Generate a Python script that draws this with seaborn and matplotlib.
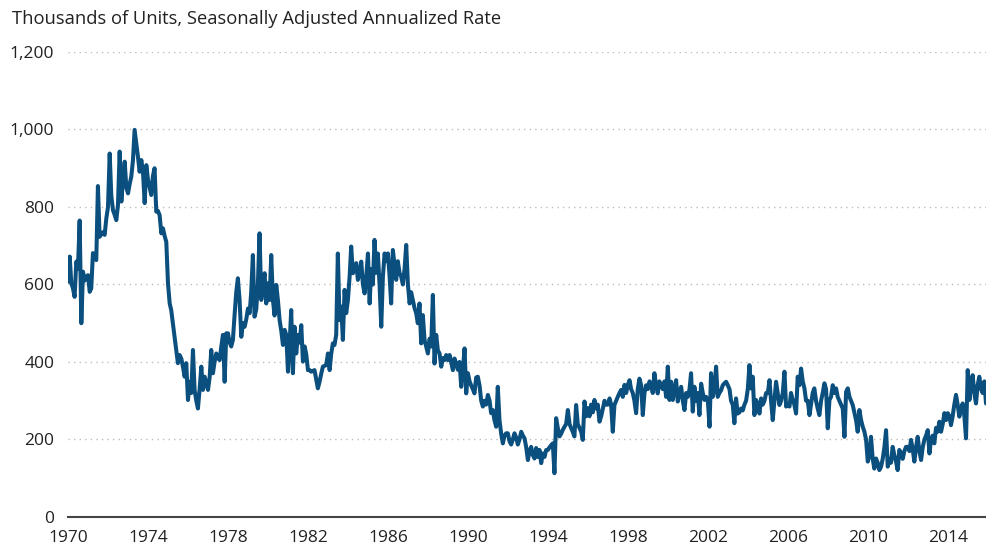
import pandas as pd
import matplotlib.pyplot as plt
import seaborn as sns

# monthly values, thousands of units (SAAR)
values_1970s = [
    607, 672, 604, 590, 568, 659, 640, 765, 500, 633, 610, 620,   # 1970
    624, 581, 590, 681, 675, 663, 854, 723, 730, 735, 728, 770,   # 1971
    800, 938, 830, 792, 780, 766, 805, 943, 814, 870, 917, 850,   # 1972
    835, 860, 878, 920, 999, 964, 930, 891, 921, 891, 810, 908,   # 1973
    870, 850, 831, 880, 900, 788, 790, 779, 732, 745, 725, 710,   # 1974
    603, 551, 534, 500, 465, 430, 397, 418, 409, 388, 362, 397,   # 1975
    302, 349, 320, 431, 328, 300, 280, 330, 388, 328, 362, 345,   # 1976
    328, 362, 431, 371, 400, 422, 410, 405, 440, 470, 349, 474,   # 1977
    474, 450, 440, 457, 520, 580, 616, 560, 465, 500, 491, 510,   # 1978
    538, 526, 580, 676, 517, 535, 600, 732, 560, 600, 629, 551,   # 1979
]
values_1980s = [
    603, 560, 676, 560, 520, 599, 560, 508, 480, 444, 483, 470,   # 1980
    375, 450, 534, 371, 491, 422, 470, 450, 495, 401, 440, 420,   # 1981
    379, 379, 375, 377, 379, 355, 332, 349, 370, 388, 390, 392,   # 1982
    422, 379, 420, 448, 444, 470, 680, 508, 543, 457, 586, 526,   # 1983
    560, 620, 698, 629, 640, 655, 612, 630, 659, 600, 577, 620,   # 1984
    680, 551, 640, 600, 715, 630, 680, 600, 491, 620, 680, 660,   # 1985
    680, 620, 551, 689, 650, 612, 660, 630, 620, 600, 640, 702,   # 1986
    600, 551, 580, 560, 540, 526, 500, 551, 448, 521, 457, 440,   # 1987
    422, 460, 440, 573, 396, 470, 430, 422, 388, 410, 405, 418,   # 1988
    405, 418, 400, 379, 409, 396, 380, 400, 336, 380, 435, 319,   # 1989
]
values_1990s = [
    371, 350, 340, 330, 319, 360, 362, 340, 300, 285, 300, 290,   # 1990
    315, 300, 268, 276, 250, 233, 336, 250, 215, 190, 210, 216,   # 1991
    216, 195, 187, 200, 216, 205, 187, 200, 220, 210, 203, 180,   # 1992
    147, 170, 181, 160, 151, 178, 155, 173, 139, 164, 155, 173,   # 1993
    173, 180, 185, 190, 113, 255, 230, 208, 215, 225, 233, 240,   # 1994
    276, 240, 230, 220, 208, 289, 240, 230, 220, 199, 298, 260,   # 1995
    281, 260, 290, 270, 302, 280, 290, 246, 260, 280, 300, 290,   # 1996
    290, 306, 290, 220, 289, 300, 310, 320, 328, 310, 341, 320,   # 1997
    341, 353, 330, 320, 300, 268, 330, 357, 340, 263, 320, 340,   # 1998
    330, 350, 340, 320, 371, 340, 319, 350, 340, 330, 350, 310,   # 1999
]
values_2000s = [
    388, 302, 349, 302, 330, 353, 298, 320, 336, 300, 276, 320,   # 2000
    310, 330, 371, 272, 336, 300, 320, 263, 344, 320, 302, 310,   # 2001
    300, 233, 371, 310, 330, 388, 310, 320, 327, 340, 345, 349,   # 2002
    340, 330, 300, 290, 242, 306, 267, 270, 280, 275, 290, 300,   # 2003
    330, 392, 332, 362, 263, 302, 290, 267, 306, 290, 300, 320,   # 2004
    320, 353, 300, 250, 300, 349, 320, 289, 300, 320, 375, 285,   # 2005
    290, 285, 320, 302, 290, 267, 362, 340, 383, 350, 332, 300,   # 2006
    300, 263, 290, 320, 332, 300, 280, 263, 300, 320, 345, 330,   # 2007
    229, 302, 310, 340, 320, 332, 310, 300, 290, 280, 207, 323,   # 2008
    332, 310, 300, 289, 270, 250, 220, 276, 250, 233, 220, 200,   # 2009
]
values_2010s = [
    143, 160, 207, 150, 125, 151, 140, 121, 130, 150, 180, 224,   # 2010
    130, 150, 140, 181, 160, 143, 121, 173, 164, 150, 170, 181,   # 2011
    181, 170, 199, 175, 143, 180, 207, 170, 147, 180, 200, 210,   # 2012
    224, 164, 199, 210, 190, 230, 220, 246, 220, 240, 268, 250,   # 2013
    268, 260, 237, 260, 290, 315, 290, 259, 280, 293, 260, 203,   # 2014
    379, 302, 340, 366, 320, 293, 340, 362, 330, 320, 350, 293,   # 2015
]

tick_years = [1970, 1974, 1978, 1982, 1986, 1990, 1994, 1998, 2002, 2006, 2010, 2014]
y_ticks = [0, 200, 400, 600, 800, 1000, 1200]
y_labels = ["0", "200", "400", "600", "800", "1,000", "1,200"]

values = values_1970s + values_1980s + values_1990s + values_2000s + values_2010s
df = pd.DataFrame({
    "date": pd.date_range("1970-01-01", periods=len(values), freq="MS"),
    "units": values,
})

sns.set_style("white")
plt.rcParams['font.family'] = ['Open Sans', 'DejaVu Sans']

fig = plt.figure(figsize=(9.86, 5.5), dpi=100)
ax = fig.add_axes([0.069, 0.06, 0.931, 0.8455])

sns.lineplot(data=df, x="date", y="units", ax=ax, color="#0b4f7e", linewidth=2.9)

ax.set_ylim(0, 1200)
ax.set_xlim(pd.Timestamp("1970-01-01"), df["date"].iloc[-1])
ax.set_yticks(y_ticks)
ax.set_yticklabels(y_labels)
tick_dates = [pd.Timestamp(f"{y}-01-01") for y in tick_years]
ax.set_xticks(tick_dates)
ax.set_xticklabels([str(y) for y in tick_years])
ax.set_xlabel("")
ax.set_ylabel("")

# dotted horizontal gridlines
for v in y_ticks[1:]:
    ax.axhline(v, color="#bdbdbd", linewidth=1, linestyle=(0, (1, 3)), zorder=0)

for side in ["left", "right", "top"]:
    ax.spines[side].set_visible(False)
ax.spines["bottom"].set_color("#444444")
ax.spines["bottom"].set_linewidth(1.5)
ax.tick_params(axis="x", direction="out", length=8, width=1, color="#444444",
               labelsize=12.5, labelcolor="#222222", pad=1)
ax.tick_params(axis="y", length=0, labelsize=12.5, labelcolor="#222222", pad=10)

fig.text(0.012, 0.965, "Thousands of Units, Seasonally Adjusted Annualized Rate",
         fontsize=13.2, color="#222222", ha="left", va="center")

fig.savefig("out.png", dpi=100)
